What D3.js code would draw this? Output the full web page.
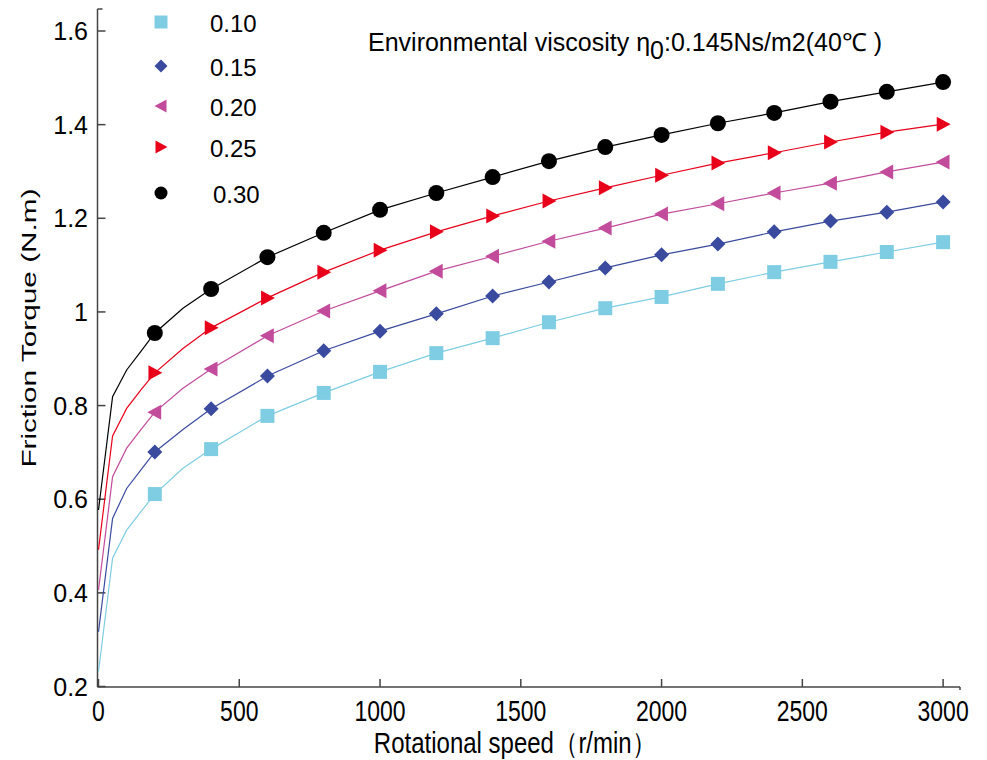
<!DOCTYPE html>
<html>
<head>
<meta charset="utf-8">
<script src="https://cdn.jsdelivr.net/npm/d3@7"></script>
<style>
  body { margin: 0; background: #fff; }
  text { font-family: "Liberation Sans", Arial, sans-serif; fill: #000; }
</style>
</head>
<body>
<div class="chart"></div>
<script>
// rotational speed samples (r/min) and friction torque (N.m) per series
const speed = [0, 50, 100, 150, 200, 300, 400, 600, 800, 1000, 1200, 1400, 1600, 1800, 2000, 2200, 2400, 2600, 2800, 3000];
const t10 = [0.232, 0.474, 0.534, 0.573, 0.611, 0.666, 0.707, 0.778, 0.827, 0.872, 0.912, 0.944, 0.978, 1.008, 1.032, 1.060, 1.085, 1.107, 1.128, 1.149];
const t15 = [0.317, 0.559, 0.623, 0.662, 0.701, 0.749, 0.793, 0.863, 0.917, 0.959, 0.996, 1.034, 1.064, 1.094, 1.122, 1.145, 1.171, 1.194, 1.213, 1.235];
const t20 = [0.406, 0.648, 0.709, 0.748, 0.786, 0.837, 0.878, 0.949, 1.002, 1.045, 1.087, 1.119, 1.151, 1.179, 1.209, 1.231, 1.254, 1.275, 1.299, 1.320];
const t25 = [0.492, 0.735, 0.794, 0.833, 0.870, 0.922, 0.966, 1.030, 1.085, 1.132, 1.171, 1.205, 1.237, 1.265, 1.292, 1.318, 1.340, 1.363, 1.384, 1.401];
const t30 = [0.577, 0.819, 0.876, 0.915, 0.955, 1.008, 1.049, 1.117, 1.169, 1.218, 1.254, 1.288, 1.322, 1.352, 1.378, 1.403, 1.425, 1.449, 1.470, 1.491];

const seriesNames = ["0.10", "0.15", "0.20", "0.25", "0.30"];
const seriesValues = [t10, t15, t20, t25, t30];
const xTicks = [0, 500, 1000, 1500, 2000, 2500, 3000];
const yTicks = [0.2, 0.4, 0.6, 0.8, 1.0, 1.2, 1.4, 1.6];
const yTickLabels = ["0.2", "0.4", "0.6", "0.8", "1", "1.2", "1.4", "1.6"];

const colors = ["#7ecde2", "#3a4a9e", "#c24b9c", "#e8001a", "#000000"];
const shapes = ["square", "diamond", "left", "right", "circle"];

const W = 987, H = 760;
const plot = {left: 97.5, right: 960, top: 9, bottom: 687};

const svg = d3.select(".chart").append("svg")
    .attr("width", W)
    .attr("height", H);

const x = d3.scaleLinear().domain([0, 3060]).range([plot.left + 1, plot.right]);
const y = d3.scaleLinear().domain([0.2, 1.647]).range([plot.bottom - 0.5, plot.top]);

function markerPath(shape, s) {
  if (shape == "square") return `M${-s},${-s}H${s}V${s}H${-s}Z`;
  if (shape == "diamond") return `M0,${-s}L${s},0L0,${s}L${-s},0Z`;
  if (shape == "left") return `M${-s},0L${s * 0.85},${-s}L${s * 0.85},${s}Z`;
  if (shape == "right") return `M${s},0L${-s * 0.85},${-s}L${-s * 0.85},${s}Z`;
  return d3.arc()({innerRadius: 0, outerRadius: s, startAngle: 0, endAngle: 2 * Math.PI});
}
const markerSize = {square: 7, diamond: 7.5, left: 7.5, right: 7.5, circle: 8};

// axes (left + bottom only, ticks pointing inward)
const axisColor = "#444";
svg.append("line").attr("x1", plot.left).attr("x2", plot.left).attr("y1", plot.top).attr("y2", plot.bottom)
  .attr("stroke", axisColor).attr("stroke-width", 1.5);
svg.append("line").attr("x1", plot.left).attr("x2", plot.right).attr("y1", plot.bottom).attr("y2", plot.bottom)
  .attr("stroke", axisColor).attr("stroke-width", 1.5);
svg.append("line").attr("x1", plot.left).attr("x2", plot.left + 5).attr("y1", plot.top).attr("y2", plot.top)
  .attr("stroke", axisColor).attr("stroke-width", 1.5);
svg.append("line").attr("x1", plot.right).attr("x2", plot.right).attr("y1", plot.bottom).attr("y2", plot.bottom + 3)
  .attr("stroke", axisColor).attr("stroke-width", 1.5);

svg.selectAll(".ytick").data(yTicks).enter().append("line")
  .attr("class", "ytick")
  .attr("x1", plot.left).attr("x2", plot.left + 8)
  .attr("y1", d => y(d)).attr("y2", d => y(d))
  .attr("stroke", axisColor).attr("stroke-width", 1.5);

svg.selectAll(".ylab").data(yTicks).enter().append("text")
  .attr("class", "ylab")
  .attr("x", 88)
  .attr("y", d => y(d) + 9)
  .attr("text-anchor", "end")
  .attr("font-size", "25px")
  .text((d, i) => yTickLabels[i]);

svg.selectAll(".xtick").data(xTicks).enter().append("line")
  .attr("class", "xtick")
  .attr("x1", d => x(d)).attr("x2", d => x(d))
  .attr("y1", plot.bottom).attr("y2", plot.bottom - 8)
  .attr("stroke", axisColor).attr("stroke-width", 1.5);

svg.selectAll(".xlab").data(xTicks).enter().append("text")
  .attr("class", "xlab")
  .attr("text-anchor", "middle")
  .attr("font-size", "23px")
  .attr("transform", d => `translate(${x(d)},${721}) scale(1,1.3)`)
  .text(d => d);

svg.append("text")
  .attr("text-anchor", "middle")
  .attr("font-size", "24px")
  .attr("transform", "translate(515,753) scale(1,1.2)")
  .text("Rotational speed（r/min）");

svg.append("text")
  .attr("text-anchor", "middle")
  .attr("font-size", "21px")
  .attr("transform", "translate(36,328) scale(1,1.42) rotate(-90)")
  .text("Friction Torque (N.m)");

// title
const title = svg.append("text")
  .attr("x", 368)
  .attr("y", 51)
  .attr("font-size", "25px");
title.append("tspan").text("Environmental viscosity η");
title.append("tspan").attr("dy", 8).text("0");
title.append("tspan").attr("dy", -8).text(":0.145Ns/m2(40℃ )");

// curves
const line = d3.line()
  .x((d, i) => x(speed[i]))
  .y(d => y(d));

seriesValues.forEach((vals, k) => {
  svg.append("path")
    .datum(vals)
    .attr("d", line)
    .attr("fill", "none")
    .attr("stroke", colors[k])
    .attr("stroke-width", 1.2);

  const pts = vals.map((v, i) => ({x: speed[i], v: v}))
    .filter(p => p.x >= 200 && p.x % 200 == 0);

  svg.selectAll(".m" + k).data(pts).enter().append("path")
    .attr("class", "m" + k)
    .attr("transform", p => `translate(${x(p.x)},${y(p.v)})`)
    .attr("d", markerPath(shapes[k], markerSize[shapes[k]]))
    .attr("fill", colors[k]);
});

// legend
const legendY = [22, 66, 106, 147, 193];
const legendTextX = [210, 210, 210, 210, 213];
seriesNames.forEach((name, k) => {
  svg.append("path")
    .attr("transform", `translate(161,${legendY[k]})`)
    .attr("d", markerPath(shapes[k], 6.5))
    .attr("fill", colors[k]);
  svg.append("text")
    .attr("x", legendTextX[k])
    .attr("y", legendY[k] + 10)
    .attr("font-size", "24px")
    .text(name);
});
</script>
</body>
</html>
